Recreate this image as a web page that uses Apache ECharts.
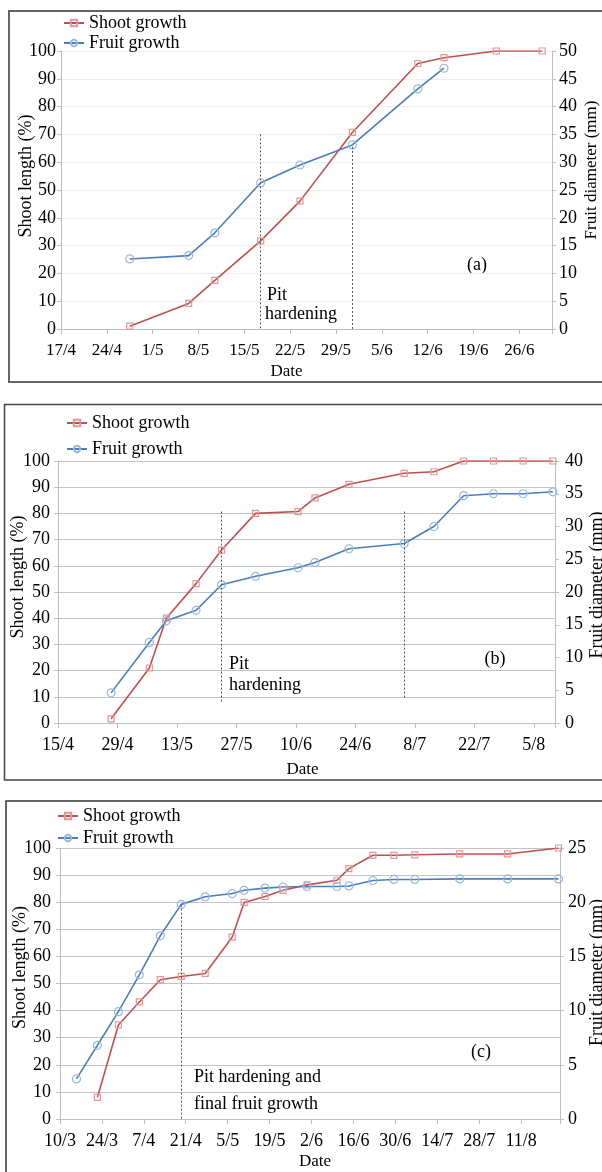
<!DOCTYPE html>
<html><head><meta charset="utf-8">
<script src="https://cdn.jsdelivr.net/npm/echarts@6/dist/echarts.min.js"></script>
<style>html,body{margin:0;padding:0;background:#fff}#c{width:602px;height:1172px}</style>
</head><body><div id="c"></div>
<script>
// ---------- data ----------
const chartYear = 2013;
// panel (a)
const startA = '17/4', endA = '1/7';
const ticksA = ['17/4','24/4','1/5','8/5','15/5','22/5','29/5','5/6','12/6','19/6','26/6'];
const shootDatesA = ['27/4','6/5','10/5','17/5','23/5','31/5','10/6','14/6','22/6','29/6'];
const shootA = [1, 9.2, 17.5, 31.7, 46, 70.7, 95.5, 97.6, 100, 100];
const fruitDatesA = ['27/4','6/5','10/5','17/5','23/5','31/5','10/6','14/6'];
const fruitA = [12.6, 13.2, 17.3, 26.3, 29.5, 33.1, 43.2, 46.9];
const pitLinesA = [['17/5', 70, 0], ['31/5', 65.5, 0]];
// panel (b)
const startB = '15/4', endB = '10/8';
const ticksB = ['15/4','29/4','13/5','27/5','10/6','24/6','8/7','22/7','5/8'];
const datesB = ['27/4','6/5','10/5','17/5','23/5','31/5','10/6','14/6','22/6','5/7','12/7','19/7','26/7','2/8','9/8'];
const shootB = [1.6, 21, 40, 53.2, 66, 80, 80.7, 85.9, 91.1, 95.3, 95.9, 100, 100, 100, 100];
const fruitB = [4.6, 12.3, 15.6, 17.2, 21.1, 22.4, 23.7, 24.5, 26.6, 27.4, 30.0, 34.7, 35.0, 35.0, 35.3];
const pitLinesB = [['23/5', 80.7, 7.6], ['5/7', 80.7, 9.3]];
// panel (c)
const startC = '10/3', endC = '24/8';
const ticksC = ['10/3','24/3','7/4','21/4','5/5','19/5','2/6','16/6','30/6','14/7','28/7','11/8'];
const shootDatesC = ['22/3','29/3','5/4','12/4','19/4','27/4','6/5','10/5','17/5','23/5','31/5','10/6','14/6','22/6','29/6','6/7','21/7','6/8','23/8'];
const shootC = [8, 34.7, 43.2, 51.4, 52.6, 53.7, 67.1, 79.9, 82.1, 84.4, 86.4, 88.1, 92.4, 97.3, 97.3, 97.5, 97.8, 97.8, 100];
const fruitDatesC = ['15/3','22/3','29/3','5/4','12/4','19/4','27/4','6/5','10/5','17/5','23/5','31/5','10/6','14/6','22/6','29/6','6/7','21/7','6/8','23/8'];
const fruitC = [3.7, 6.8, 9.9, 13.3, 16.9, 19.8, 20.5, 20.8, 21.1, 21.3, 21.4, 21.45, 21.45, 21.5, 22.0, 22.1, 22.1, 22.15, 22.15, 22.15];
const pitLinesC = [['19/4', 79.1, 0]];

// ---------- helpers ----------
function toDate(s){ const p = s.split('/').map(Number); return Date.UTC(chartYear, p[1]-1, p[0]); }
function dayOffset(s, start){ return Math.round((toDate(s) - toDate(start)) / 86400000); }
// a date is drawn in the middle of its one-day slot (date axis, "between tick marks")
function slot(s, start){ return dayOffset(s, start) + 0.5; }
function pts(dates, vals, start){ return dates.map((d, i) => [slot(d, start), vals[i]]); }

const FONT = 'Liberation Serif';
const RED = '#c0504d', BLUE = '#4a7ebb';
const RED_M = '#e29896', BLUE_M = '#98b8e2';

const panels = [
  {start:startA, end:endA, step:7, ticks:ticksA, rMax:50,
   grid:{left:61, top:51, width:491, height:278}, split:'#eeeeee', xFont:17,
   lGap:26, lUp:28, rGap:31, rUp:40, rFont:17, lMargin:5, rMargin:7, dateGap:34, datePad:[0,40,0,0],
   shoot:pts(shootDatesA, shootA, startA), fruit:pts(fruitDatesA, fruitA, startA), pit:pitLinesA,
   legend:{left:63, top:14, itemGap:2}},
  {start:startB, end:endB, step:14, ticks:ticksB, rMax:40,
   grid:{left:58, top:461, width:497, height:262}, split:'#c4c4c4', xFont:18,
   lGap:31, lUp:30, rGap:33, rUp:14, rFont:18, lMargin:8, rMargin:10, dateGap:38, datePad:[0,8,0,0],
   shoot:pts(datesB, shootB, startB), fruit:pts(datesB, fruitB, startB), pit:pitLinesB,
   legend:{left:66, top:414, itemGap:8}},
  {start:startC, end:endC, step:14, ticks:ticksC, rMax:25,
   grid:{left:60, top:848, width:500, height:271}, split:'#c4c4c4', xFont:18,
   lGap:31, lUp:32, rGap:28, rUp:22, rFont:18, lMargin:9, rMargin:8, dateGap:34, datePad:[0,0,0,10],
   shoot:pts(shootDatesC, shootC, startC), fruit:pts(fruitDatesC, fruitC, startC), pit:pitLinesC,
   legend:{left:57, top:807, itemGap:4}}
];

const grids = [], xAxes = [], yAxes = [], series = [], legends = [];
panels.forEach((p, k) => {
  grids.push(Object.assign({containLabel:false, outerBoundsMode:'none'}, p.grid));
  xAxes.push({
    type:'value', gridIndex:k, min:0, max:dayOffset(p.end, p.start), interval:p.step,
    name:'Date', nameLocation:'middle', nameGap:p.dateGap, nameMoveOverlap:false,
    nameTextStyle:{fontFamily:FONT, fontSize:17, color:'#000', padding:p.datePad},
    axisLine:{show:true, lineStyle:{color:'#bfbfbf', width:1}},
    axisTick:{show:true, inside:false, length:5, lineStyle:{color:'#bfbfbf'}},
    splitLine:{show:false},
    axisLabel:{margin:13, fontFamily:FONT, fontSize:p.xFont, color:'#000', showMaxLabel:true,
      formatter:function(v){ const i = Math.round(v / p.step); return Math.abs(v - i*p.step) < 1e-6 && p.ticks[i] ? p.ticks[i] : ''; }}
  });
  yAxes.push({
    type:'value', gridIndex:k, position:'left', min:0, max:100, interval:10,
    name:'Shoot length (%)', nameLocation:'middle', nameRotate:90, nameGap:p.lGap, nameMoveOverlap:false,
    nameTextStyle:{fontFamily:FONT, fontSize:18, color:'#000', padding:[0,0,0,p.lUp]},
    axisLine:{show:true, lineStyle:{color:'#bfbfbf'}},
    axisTick:{show:true, length:4, lineStyle:{color:'#bfbfbf'}},
    splitLine:{show:true, lineStyle:{color:p.split, width:1}},
    axisLabel:{margin:p.lMargin, fontFamily:FONT, fontSize:18, color:'#000'}
  });
  yAxes.push({
    type:'value', gridIndex:k, position:'right', min:0, max:p.rMax, interval:5,
    name:'Fruit diameter (mm)', nameLocation:'middle', nameRotate:90, nameGap:p.rGap, nameMoveOverlap:false,
    nameTextStyle:{fontFamily:FONT, fontSize:p.rFont, color:'#000', padding:[0,0,0,p.rUp]},
    axisLine:{show:true, lineStyle:{color:'#bfbfbf'}},
    axisTick:{show:true, length:4, lineStyle:{color:'#bfbfbf'}},
    splitLine:{show:false},
    axisLabel:{margin:p.rMargin, fontFamily:FONT, fontSize:18, color:'#000'}
  });
  series.push({
    type:'line', name:'Shoot growth', xAxisIndex:k, yAxisIndex:2*k, data:p.shoot,
    symbol:'rect', symbolSize:6, showAllSymbol:true,
    lineStyle:{color:RED, width:1.6},
    itemStyle:{color:'rgba(255,255,255,0)', borderColor:RED_M, borderWidth:1.2},
    markLine:{silent:true, symbol:'none', label:{show:false},
      lineStyle:{color:'#555', type:[2,2], width:1},
      data:p.pit.map(q => [{coord:[slot(q[0], p.start), q[1]]}, {coord:[slot(q[0], p.start), q[2]]}])}
  });
  series.push({
    type:'line', name:'Fruit growth', xAxisIndex:k, yAxisIndex:2*k+1, data:p.fruit,
    symbol:'circle', symbolSize:8, showAllSymbol:true,
    lineStyle:{color:BLUE, width:1.6},
    itemStyle:{color:'rgba(255,255,255,0)', borderColor:BLUE_M, borderWidth:1.2}
  });
  legends.push({
    orient:'vertical', left:p.legend.left, top:p.legend.top, itemGap:p.legend.itemGap,
    itemWidth:20, itemHeight:8, padding:0, selectedMode:false,
    data:['Shoot growth','Fruit growth'],
    textStyle:{fontFamily:FONT, fontSize:18, color:'#000', lineHeight:18}
  });
});

function txt(x, y, s, align){ return {type:'text', x:x, y:y, silent:true,
  style:{text:s, fill:'#000', font:'18px "' + FONT + '"', align:align || 'left', verticalAlign:'middle'}}; }

const graphic = [
  {type:'rect', shape:{x:9, y:11, width:600, height:371}, style:{fill:null, stroke:'#666', lineWidth:2}, silent:true},
  {type:'rect', shape:{x:4.5, y:404.5, width:605, height:375.5}, style:{fill:null, stroke:'#444', lineWidth:1.5}, silent:true},
  {type:'rect', shape:{x:6, y:801, width:605, height:390}, style:{fill:null, stroke:'#333', lineWidth:1.5}, silent:true},
  txt(267, 295, 'Pit'), txt(265, 314, 'hardening'), txt(477, 265, '(a)', 'center'),
  txt(229, 664, 'Pit'), txt(229, 685, 'hardening'), txt(495, 659, '(b)', 'center'),
  txt(194, 1077, 'Pit hardening and'), txt(194, 1104, 'final fruit growth'), txt(481, 1052, '(c)', 'center')
];

const chart = echarts.init(document.getElementById('c'), null, {renderer:'canvas'});
chart.setOption({
  animation:false, backgroundColor:'#fff',
  grid:grids, xAxis:xAxes, yAxis:yAxes, series:series, legend:legends, graphic:graphic
});
</script></body></html>
